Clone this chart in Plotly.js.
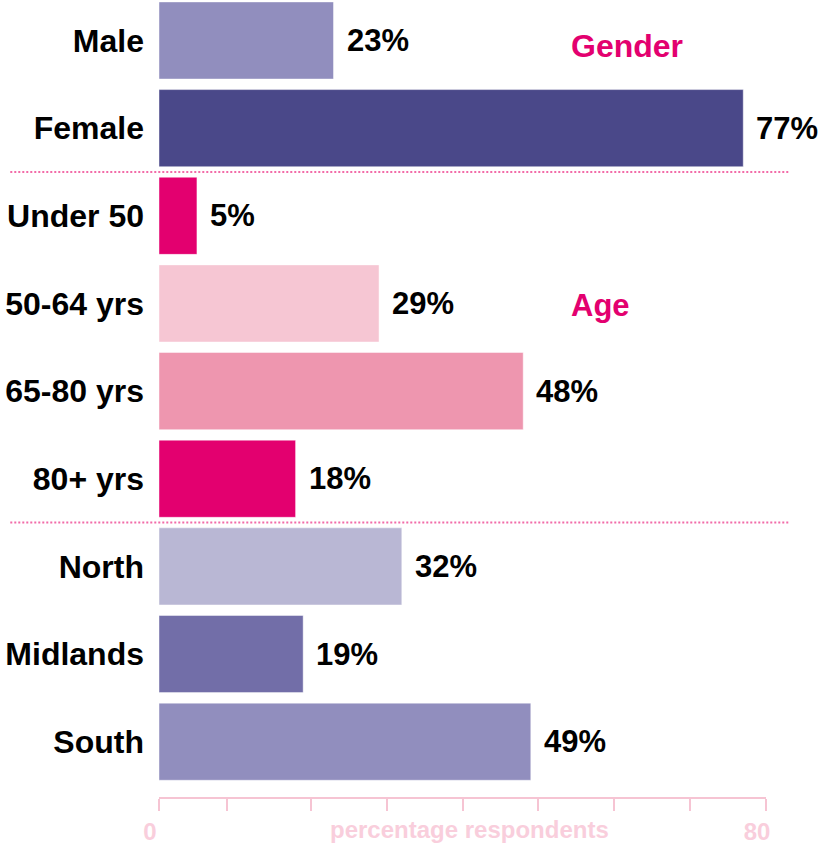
<!DOCTYPE html>
<html>
<head>
<meta charset="utf-8">
<script src="https://cdn.plot.ly/plotly-3.0.1.min.js"></script>
<style>
  html, body { margin: 0; padding: 0; background: #ffffff; }
  #chart { width: 826px; height: 851px; }
</style>
</head>
<body>
<div id="chart"></div>
<script>
// ---- data ----
const categories = ["Male", "Female", "Under 50", "50-64 yrs", "65-80 yrs", "80+ yrs", "North", "Midlands", "South"];
const percentages = [23, 77, 5, 29, 48, 18, 32, 19, 49];
const barColors = ["#918EBE", "#4A4889", "#E3006F", "#F6C6D3", "#EE96AF", "#E3006F", "#B9B7D4", "#726EA8", "#918EBE"];
const groupLabels = ["Gender", "Age"];
const groupLabelRows = ["Male", "50-64 yrs"];
const separatorsAfter = ["Female", "80+ yrs"];
const axisTickVals = [0, 9, 20, 30, 40, 50, 60, 70, 80];
const axisTickText = ["0", "", "", "", "", "", "", "", "80"];
const axisTitle = "percentage respondents";

const FONT = "Liberation Sans, Arial, Helvetica, sans-serif";
const AXIS_PINK = "#F6C4D3";
const AXIS_TEXT = "#F9CEDC";
const MAGENTA = "#E3006F";

const trace = {
  type: "bar",
  orientation: "h",
  y: categories,
  x: percentages,
  marker: { color: barColors, line: { color: "rgba(255,255,255,0.45)", width: 1 } },
  hoverinfo: "none",
  showlegend: false
};

const annotations = [];
categories.forEach((c, i) => {
  annotations.push({
    x: percentages[i], y: c, xref: "x", yref: "y",
    text: percentages[i] + "%",
    showarrow: false, xanchor: "left", yanchor: "middle", xshift: 11,
    font: { family: FONT, size: 31, color: "#000000", weight: 700 }
  });
});
groupLabels.forEach((g, i) => {
  annotations.push({
    x: 54.1, y: groupLabelRows[i], xref: "x", yref: "y",
    text: g, showarrow: false, xanchor: "left", yanchor: "middle", yshift: (i === 0 ? -6 : -2),
    font: { family: FONT, size: (i === 0 ? 32 : 31), color: MAGENTA, weight: 700 }
  });
});
annotations.push({
  x: 0.512, y: -0.0414, xref: "paper", yref: "paper",
  text: axisTitle, showarrow: false, xanchor: "center", yanchor: "middle",
  font: { family: FONT, size: 24, color: AXIS_TEXT, weight: 700 }
});

const shapes = separatorsAfter.map(c => {
  const idx = categories.indexOf(c) + 0.5;
  return {
    type: "line", xref: "paper", yref: "y",
    x0: -0.245, x1: 1.038, y0: idx, y1: idx,
    line: { color: "#F26BA8", width: 2, dash: "2px,2px" }
  };
});

const layout = {
  width: 826, height: 851,
  margin: { l: 159, r: 60, t: 0, b: 54 },
  paper_bgcolor: "#ffffff",
  plot_bgcolor: "#ffffff",
  bargap: 0.12,
  xaxis: {
    range: [0, 80],
    showgrid: false, zeroline: false,
    showline: true, linecolor: AXIS_PINK, linewidth: 2,
    ticks: "outside", ticklen: 12, tickwidth: 2, tickcolor: AXIS_PINK,
    tickmode: "array", tickvals: axisTickVals, ticktext: axisTickText,
    ticklabelshift: -9, ticklabelstandoff: 0,
    tickfont: { family: FONT, size: 24, color: AXIS_TEXT, weight: 700 },
    fixedrange: true
  },
  yaxis: {
    type: "category",
    range: [8.631, -0.462],
    showgrid: false, zeroline: false, showline: false,
    ticks: "", ticklabelstandoff: 14,
    tickfont: { family: FONT, size: 32, color: "#000000", weight: 700 },
    fixedrange: true
  },
  annotations: annotations,
  shapes: shapes,
  font: { family: FONT }
};

Plotly.newPlot("chart", [trace], layout, { displayModeBar: false, staticPlot: true });
</script>
</body>
</html>
